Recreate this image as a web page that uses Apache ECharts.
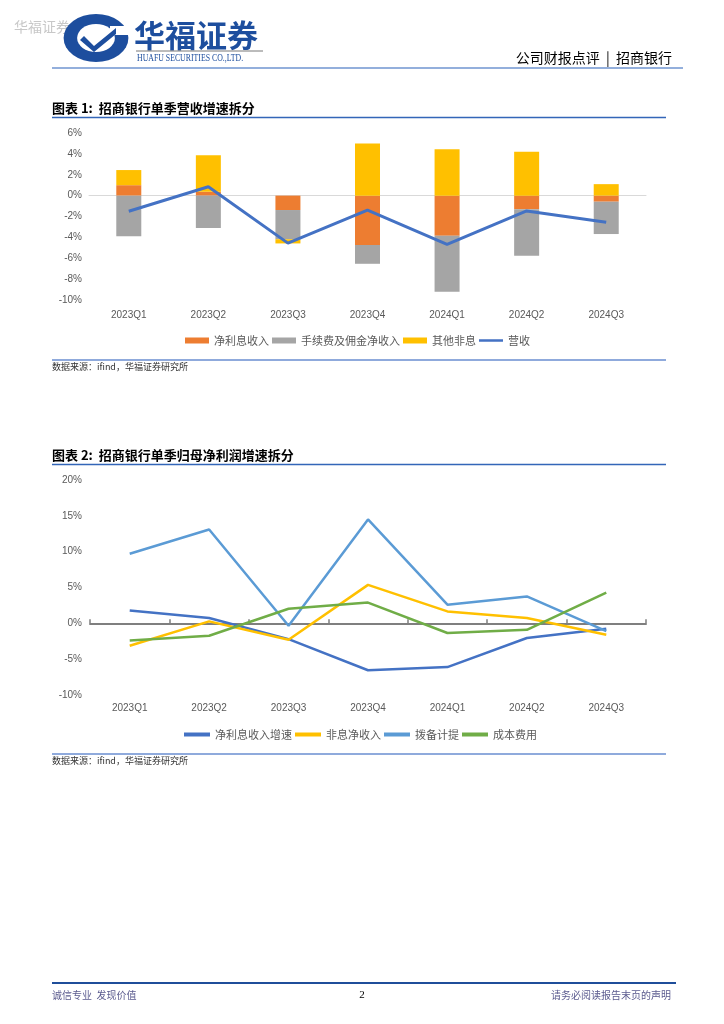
<!DOCTYPE html>
<html><head><meta charset="utf-8">
<script src="https://cdn.jsdelivr.net/npm/echarts/dist/echarts.min.js"></script>
<style>html,body{margin:0;padding:0;background:#fff}#c{width:724px;height:1024px}</style>
</head><body><div id="c"></div>
<script>
const categories = ['2023Q1','2023Q2','2023Q3','2023Q4','2024Q1','2024Q2','2024Q3'];
// Chart 1 (%)
const niiContrib   = [1.0, 0.37, -1.38, -4.73, -3.84, -1.3, -0.58];
const feeContrib   = [-3.9, -3.1, -2.8, -1.8, -5.36, -4.45, -3.1];
const otherContrib = [1.45, 3.5, -0.4, 5.0, 4.45, 4.2, 1.1];
const revenue      = [-1.5, 0.85, -4.55, -1.38, -4.67, -1.47, -2.56];
// Chart 2 (%)
const niiGrowth    = [1.8, 0.74, -2.2, -6.55, -6.1, -2.05, -0.75];
const nonInterest  = [-3.12, 0.27, -2.28, 5.37, 1.66, 0.74, -1.59];
const provision    = [9.7, 13.1, -0.33, 14.5, 2.6, 3.75, -1.1];
const costExpense  = [-2.38, -1.73, 2.03, 2.9, -1.35, -0.9, 4.3];
const yTicks1 = {min: -10, max: 6, interval: 2};
const yTicks2 = {min: -10, max: 20, interval: 5};

const CJK = '"Noto Sans CJK SC"';
const NUM = '"Liberation Sans", Arial';
const LINE_ICON = 'path://M0,0L0.01,0Z M0,1.6L26,1.6L26,4.4L0,4.4Z M0,6L0.01,6Z';
const txt = (text, x, y, font, fill, align, extra) => Object.assign({
  type: 'text', silent: true,
  style: {text: text, x: x, y: y, font: font, fill: fill, align: align || 'left', verticalAlign: 'middle'}
}, extra || {});
const hline = (x1, x2, y, stroke, w) => ({type: 'line', silent: true, shape: {x1: x1, y1: y, x2: x2, y2: y}, style: {stroke: stroke, lineWidth: w}});

const chart = echarts.init(document.getElementById('c'), null, {renderer: 'canvas'});
const axisLabelStyle = {color: '#595959', fontSize: 10, fontFamily: NUM};

chart.setOption({
  animation: false,
  backgroundColor: '#fff',
  grid: [
    {left: 89, top: 133, width: 557, height: 167},
    {left: 90, top: 480, width: 556, height: 215}
  ],
  legend: [
    {
      left: 185, top: 335, padding: 0, itemGap: 3, itemWidth: 24, itemHeight: 6,
      textStyle: {color: '#595959', fontSize: 11, fontFamily: CJK},
      data: [
        {name: '净利息收入', icon: 'rect'},
        {name: '手续费及佣金净收入', icon: 'rect'},
        {name: '其他非息', icon: 'rect'},
        {name: '营收', icon: LINE_ICON}
      ]
    },
    {
      left: 184, top: 729, padding: 0, itemGap: 3, itemWidth: 26, itemHeight: 4,
      textStyle: {color: '#595959', fontSize: 11, fontFamily: CJK},
      icon: 'rect',
      data: ['净利息收入增速', '非息净收入', '拨备计提', '成本费用']
    }
  ],
  xAxis: [
    {type: 'category', gridIndex: 0, data: categories,
     axisLine: {onZero: true, lineStyle: {color: '#D9D9D9', width: 1}},
     axisTick: {show: false}, axisLabel: {show: false}},
    {type: 'category', gridIndex: 0, data: categories, position: 'bottom',
     axisLine: {show: false, onZero: false}, axisTick: {show: false},
     axisLabel: Object.assign({margin: 10}, axisLabelStyle)},
    {type: 'category', gridIndex: 1, data: categories,
     axisLine: {onZero: true, lineStyle: {color: '#7F7F7F', width: 2}},
     axisTick: {show: true, inside: true, length: 4, lineStyle: {color: '#7F7F7F', width: 1.5}},
     axisLabel: {show: false}},
    {type: 'category', gridIndex: 1, data: categories, position: 'bottom',
     axisLine: {show: false, onZero: false}, axisTick: {show: false},
     axisLabel: Object.assign({margin: 8}, axisLabelStyle)}
  ],
  yAxis: [
    {type: 'value', gridIndex: 0, min: yTicks1.min, max: yTicks1.max, interval: yTicks1.interval,
     splitLine: {show: false}, axisLine: {show: false}, axisTick: {show: false},
     axisLabel: Object.assign({formatter: '{value}%', margin: 7}, axisLabelStyle)},
    {type: 'value', gridIndex: 1, min: yTicks2.min, max: yTicks2.max, interval: yTicks2.interval,
     splitLine: {show: false}, axisLine: {show: false}, axisTick: {show: false},
     axisLabel: Object.assign({formatter: '{value}%', margin: 8}, axisLabelStyle)}
  ],
  series: [
    {name: '净利息收入', type: 'bar', stack: 'rev', xAxisIndex: 0, yAxisIndex: 0, barWidth: 25,
     itemStyle: {color: '#ED7D31'}, data: niiContrib},
    {name: '手续费及佣金净收入', type: 'bar', stack: 'rev', xAxisIndex: 0, yAxisIndex: 0, barWidth: 25,
     itemStyle: {color: '#A5A5A5'}, data: feeContrib},
    {name: '其他非息', type: 'bar', stack: 'rev', xAxisIndex: 0, yAxisIndex: 0, barWidth: 25,
     itemStyle: {color: '#FFC000'}, data: otherContrib},
    {name: '营收', type: 'line', xAxisIndex: 0, yAxisIndex: 0, symbol: 'none',
     lineStyle: {color: '#4472C4', width: 3}, itemStyle: {color: '#4472C4'}, data: revenue},

    {name: '净利息收入增速', type: 'line', xAxisIndex: 2, yAxisIndex: 1, symbol: 'none',
     lineStyle: {color: '#4472C4', width: 2.5}, itemStyle: {color: '#4472C4'}, data: niiGrowth},
    {name: '非息净收入', type: 'line', xAxisIndex: 2, yAxisIndex: 1, symbol: 'none',
     lineStyle: {color: '#FFC000', width: 2.5}, itemStyle: {color: '#FFC000'}, data: nonInterest},
    {name: '拨备计提', type: 'line', xAxisIndex: 2, yAxisIndex: 1, symbol: 'none',
     lineStyle: {color: '#5B9BD5', width: 2.5}, itemStyle: {color: '#5B9BD5'}, data: provision},
    {name: '成本费用', type: 'line', xAxisIndex: 2, yAxisIndex: 1, symbol: 'none',
     lineStyle: {color: '#70AD47', width: 2.5}, itemStyle: {color: '#70AD47'}, data: costExpense}
  ],
  graphic: [
    // header
    txt('华福证券', 14, 27, '14px ' + CJK, '#C8C8C8'),
    {type: 'circle', silent: true, shape: {cx: 96, cy: 38, r: 24}, scaleX: 1.35, originX: 96, originY: 38, style: {fill: '#1D4E9E'}},
    {type: 'circle', silent: true, shape: {cx: 96, cy: 38, r: 14}, scaleX: 1.35, originX: 96, originY: 38, style: {fill: '#fff'}},
    {type: 'rect', silent: true, shape: {x: 110, y: 26, width: 22, height: 9}, style: {fill: '#fff'}},
    {type: 'polygon', silent: true, shape: {points: [[84, 36], [94, 46], [116, 28], [116, 34], [94, 52], [80, 40]]}, style: {fill: '#1D4E9E'}},
    txt('华福证券', 134, 35, 'bold 31px ' + CJK, '#1D4E9E'),
    hline(136, 263, 51, '#555', 0.8),
    txt('HUAFU SECURITIES CO.,LTD.', 137, 58, '10px "Liberation Serif"', '#1D4E9E', 'left', {scaleX: 0.78, originX: 137, originY: 58}),
    txt('公司财报点评  |  招商银行', 672, 58, '14px ' + CJK, '#000', 'right'),
    hline(52, 683, 68, '#6F95D0', 1.5),
    // chart 1 title / source
    txt('图表 1:  招商银行单季营收增速拆分', 52, 108, 'bold 13px ' + CJK, '#000'),
    hline(52, 666, 117.5, '#3366B8', 1.5),
    hline(52, 666, 360, '#8FAADC', 2),
    txt('数据来源：ifind，华福证券研究所', 52, 367, '9px ' + CJK, '#333'),
    // chart 2 title / source
    txt('图表 2:  招商银行单季归母净利润增速拆分', 52, 455, 'bold 13px ' + CJK, '#000'),
    hline(52, 666, 464.5, '#3366B8', 1.5),
    hline(52, 666, 754, '#8FAADC', 2),
    txt('数据来源：ifind，华福证券研究所', 52, 761, '9px ' + CJK, '#333'),
    // footer
    hline(52, 676, 983, '#1F4E9A', 2),
    txt('诚信专业  发现价值', 52, 995, '10px ' + CJK, '#5B5B8F'),
    txt('2', 362, 995, '11px "Liberation Serif"', '#000', 'center'),
    txt('请务必阅读报告末页的声明', 671, 995, '10px ' + CJK, '#5B5B8F', 'right')
  ]
});
</script>
</body></html>
